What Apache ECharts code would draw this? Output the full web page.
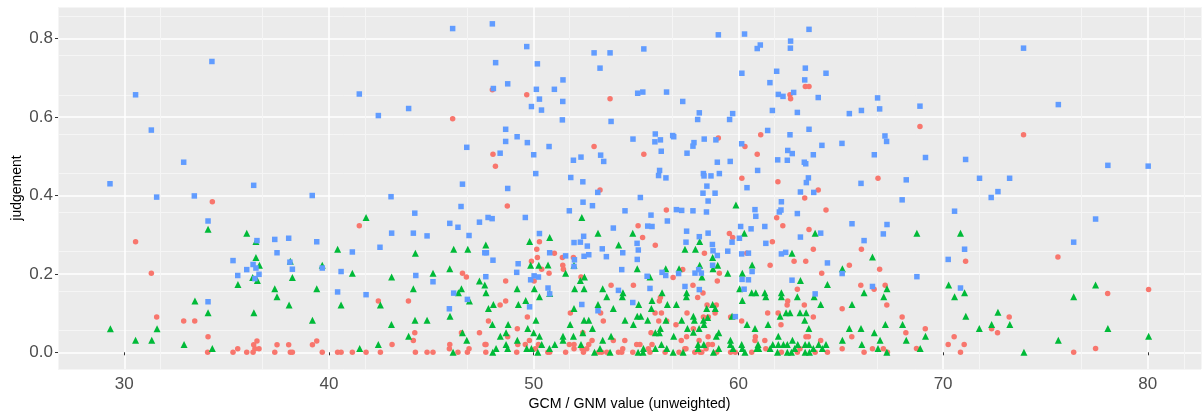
<!DOCTYPE html>
<html><head><meta charset="utf-8">
<style>html,body{margin:0;padding:0;background:#fff}#c{width:1202px;height:412px}</style>
<script src="https://cdn.jsdelivr.net/npm/echarts@6/dist/echarts.min.js"></script>
</head><body><div id="c"></div>
<script>
const xTicks=[30,40,50,60,70,80];
const yTicks=[0,0.2,0.4,0.6,0.8];
const xName='GCM / GNM value (unweighted)';
const yName='judgement';
const redPoints=[
[30.55,.282],[31.32,.202],[31.58,.09],[32.9,.08],[33.44,.08],[34.09,.04],[34.3,.384],[34.07,0],[35.31,0],[35.54,.009],[35.98,0],[36.29,0],[36.32,.019],[36.48,.029],[36.38,.009],[36.58,.009],[37.35,0],[37.46,.019],[38.03,.019],[38.11,0],[38.21,0],[39.19,.019],[39.4,.029],[39.67,0],[40.42,0],[40.59,0],[41.14,0],[41.48,.323],[41.81,0],[42.41,.131],[42.51,0],[43.08,.02],
[47.98,.67],[49.66,.657],[53.73,.647],[46.04,.596],[48.01,.505],[52.95,.525],[55.38,.505],[48.13,.475],[53.24,.414],
[63.27,.678],[63.45,.678],[62.52,.657],[62.55,.647],[59.02,.547],[61.09,.555],[60.32,.525],[60.92,.505],[60.17,.444],[61.93,.435],[66.82,.444],[63.9,.414],[63.24,.394],
[68.87,.576],[73.93,.555],[75.61,.243],[71.1,.232],[78.04,.15],[80.04,.16],[68,.09],[73.23,.09],[69.13,.06],[72.37,.06],[68.18,.05],[72.66,.05],[70.54,.04],[70.25,.02],[71.03,.02],[68.7,.01],[77.45,.01],[70.85,0],[76.38,0],
[48.71,.373],[50.28,.282],[50.15,.263],[50.18,.242],[51.01,.253],[51.4,.242],[51.94,.242],[49.89,.232],[51.42,.222],[51.45,.212],[50.39,.212],[50.75,.202],[46.52,.202],[46.71,.192],[48.63,.182],[50.02,.182],[52.31,.192],[43.88,.131],[48.36,.121],[48.63,.131],[51.79,.1],[49.69,.09],[47.79,.08],[49.2,.06],[44.19,.05],[46.47,.05],[47.35,.05],[52.4,.05],[44.12,.03],[48.73,.04],[49.79,.03],[52.85,.03],[45.9,.02],[45.88,.009],[46.84,.009],[47.62,.02],[47.67,.02],[49.22,.02],[49.59,.02],[51.74,.02],[51.97,.02],[52.69,.02],[50.23,.02],[50.08,.009],[51.97,.009],[52.36,.009],[52.59,.009],[44.22,0],[44.79,0],[45.08,0],[46.3,0],[46.76,0],[47.66,0],[49.17,0],[50.69,0],[50.78,0],[51.56,0],[52.43,0],[53.18,0],
[56.48,.363],[55.1,.323],[55.32,.293],[55.94,.273],[59.56,.303],[59.72,.293],[58.34,.253],[60.41,.253],[59.07,.202],[57.28,.211],[56.81,.191],[58.97,.182],[53.78,.171],[54.87,.171],[57.78,.171],[58.27,.151],[58.01,.14],[56.19,.14],[56.14,.131],[58.47,.121],[58.92,.121],[55.93,.1],[56.24,.1],[57.49,.1],[58.86,.1],[53.27,.1],[58.29,.09],[59.62,.09],[53.4,.08],[56.11,.08],[56.5,.08],[58.53,.09],[60.16,.08],[56.95,.07],[57.8,.06],[55.73,.05],[57.47,.04],[58.52,.04],[53.89,.03],[54.45,.03],[57.21,.03],[58.08,.03],[55.03,.02],[55.19,.02],[55.78,.02],[58.53,.02],[58.73,.02],[54.35,.009],[55.6,.009],[57.38,.009],[57.44,.009],[58.42,.009],[53.32,0],[53.57,0],[54.14,0],[54.3,0],[54.84,0],[55.68,0],[56.42,0],[57.1,0],[57.87,0],[58.13,0],[58.21,0],[58.94,0],[59.62,0],[59.85,0],
[64.28,.363],[61.87,.343],[62.17,.323],[63.45,.313],[61.66,.282],[63.66,.263],[66.01,.263],[62.72,.232],[63.29,.232],[61.55,.222],[65.42,.222],[66.9,.212],[64.07,.202],[65.98,.171],[67.17,.171],[66.63,.161],[62.88,.161],[62.41,.131],[62.38,.121],[63.22,.121],[67.25,.121],[65.07,.111],[61.43,.1],[61.94,.1],[63.66,.09],[62.08,.07],[60.83,.04],[63.3,.04],[63.42,.04],[65.54,.04],[60.81,.03],[61.29,.03],[64.02,.03],[63.01,.009],[61.34,.009],[65.07,.009],[66.55,.009],[67.08,.009],[60.65,0],[62.1,0],[62.88,0],[63.75,0],[64.35,0],[66.14,0],[67.28,0]
];
const greenPoints=[
[29.32,.06],[30.55,.031],[31.34,.031],[31.6,.06],[32.92,.02],[33.45,.131],[34.09,.101],[34.09,.314],[34.3,.01],[35.55,.173],[35.98,.304],[36.43,.283],[36.43,.242],[36.6,.222],[36.27,.191],[36.5,.183],[36.33,.101],[37.35,.162],[37.46,.142],[38.05,.121],[38.11,.232],[38.21,.191],[39.19,.082],[39.4,.162],[39.67,.222],[40.42,.263],[40.59,.121],[41.14,.202],[41.5,.01],[41.81,.344],[42.41,.02],[42.51,.121],[43.06,.192],[43.05,.071],
[68.72,.304],[70.85,.304],[70.27,.172],[71.05,.152],[70.56,.142],[76.38,.142],[77.45,.172],[71.11,.092],[72.68,.102],[68.02,.071],[72.37,.071],[73.26,.071],[71.77,.061],[78.05,.061],[69.14,.041],[80.04,.041],[68.2,.031],[75.63,.031],[68.88,.01],[73.95,0],
[52.35,.344],[53.14,.304],[50.78,.293],[49.8,.283],[47.66,.274],[44.22,.253],[46.09,.263],[46.78,.263],[49.85,.222],[50.25,.222],[50.7,.223],[51.97,.222],[45.9,.213],[45.08,.202],[51.56,.202],[47.35,.182],[47.61,.172],[52.48,.192],[52.28,.183],[44.12,.162],[46.47,.162],[46.32,.152],[47.67,.152],[49.19,.162],[50.03,.162],[52,.162],[52.46,.162],[50.78,.15],[50.28,.142],[46.86,.131],[49.61,.132],[48.03,.122],[49.25,.122],[47.79,.112],[51.97,.112],[53.14,.122],[44.2,.082],[44.79,.082],[45.91,.092],[50.11,.082],[51.78,.071],[52.46,.082],[52.69,.082],[47.98,.071],[48.75,.071],[49.71,.061],[52.87,.061],[46.52,.05],[48.65,.05],[50,.05],[52.4,.05],[43.89,.041],[48.37,.041],[50.28,.041],[51.43,.041],[51.94,.041],[46.73,.031],[49.2,.031],[51.43,.031],[48.65,.02],[50.39,.02],[51.03,.02],[52.31,.02],[48.16,.01],[48.73,.01],[49.66,.01],[49.89,.01],[50.77,.01],[53.24,.01],[46.06,0],[48,0],[50.2,0],[52.97,0],
[59.88,.376],[54.84,.304],[58.11,.283],[60.29,.304],[54.15,.274],[57.39,.263],[57.9,.263],[58.74,.242],[58.11,.222],[58.99,.222],[55.06,.213],[56.45,.213],[57.1,.213],[58.76,.213],[59.48,.202],[60.19,.202],[55.68,.192],[58.22,.192],[53.37,.162],[54.36,.152],[56.27,.152],[57.47,.152],[60.06,.162],[53.57,.142],[54.33,.142],[57.46,.142],[55.78,.132],[60.19,.132],[55.13,.122],[56.53,.122],[56.97,.122],[53.89,.112],[55.75,.112],[58.45,.112],[58.74,.122],[58.87,.112],[55.06,.092],[55.23,.092],[57.8,.092],[59.69,.092],[54.46,.082],[55.57,.082],[56.46,.082],[57.23,.082],[57.85,.082],[58.29,.082],[58.5,.089],[54.87,.071],[58.32,.071],[60.42,.071],[56.19,.061],[57.51,.061],[58.08,.061],[55.94,.05],[56.14,.05],[57.8,.051],[59.04,.05],[58.92,.041],[53.78,.041],[56.84,.041],[59.61,.031],[53.37,.031],[56.24,.02],[58.03,.02],[58.31,.02],[59.61,.02],[60.16,.02],[55.36,.01],[55.94,.01],[56.5,.01],[58.03,.01],[59.04,.01],[59.74,.01],[60.19,.01],[53.73,0],[55.1,0],[55.34,0],[56.81,0],[57.3,0],[58.78,0],[60.32,0],
[63.75,.304],[62.62,.253],[66.55,.243],[60.67,.223],[65.08,.213],[63.03,.183],[64.35,.173],[67.26,.162],[60.65,.152],[60.85,.152],[61.29,.152],[62.1,.152],[66.14,.152],[61.34,.142],[62.1,.142],[62.88,.142],[63.7,.142],[67.1,.142],[64.02,.122],[65.55,.122],[62.33,.101],[62.52,.101],[63.01,.101],[63.31,.101],[62.04,.092],[63.24,.082],[60.81,.061],[61.45,.071],[63.44,.061],[65.42,.061],[65.99,.061],[67.18,.071],[66.64,.05],[61.95,.041],[65.08,.031],[66.92,.031],[62.64,.031],[61.68,.02],[61.95,.02],[62.2,.02],[62.39,.02],[62.9,.02],[63.26,.02],[63.45,.02],[63.92,.02],[64.28,.02],[66.03,.02],[60.96,.02],[60.99,.01],[61.55,.01],[62.75,.01],[63.66,.01],[64.1,.01],[66.82,.01],[60.9,.01],[61.91,0],[62.39,0],[62.59,0],[63.26,0],[63.47,0],[67.25,0]
];
const bluePoints=[
[29.3,.43],[30.55,.657],[31.32,.567],[32.9,.485],[31.58,.396],[33.42,.399],[34.28,.742],[36.32,.426],[39.18,.4],[41.48,.659],[42.41,.604],[43.03,.397],
[34.09,.335],[34.09,.129],[35.31,.234],[35.54,.196],[35.98,.211],[36.29,.224],[36.43,.215],[36.58,.199],[36.38,.188],[36.48,.285],[37.35,.288],[37.46,.254],[38.03,.291],[38.09,.23],[38.21,.212],[39.4,.282],[39.67,.215],[40.59,.206],[40.42,.154],[41.14,.256],[41.81,.147],[42.49,.268],[43.06,.304],
[46.04,.826],[47.98,.838],[49.66,.78],[48.14,.739],[50.18,.736],[52.95,.764],[53.73,.764],[55.38,.774],[53.24,.725],[51.43,.695],[48.73,.685],[48.03,.673],[50.13,.671],[51.01,.671],[50.28,.646],[51.42,.64],[49.89,.627],[50.38,.618],[55.08,.661],[55.33,.664],[43.89,.622],[51.4,.593],[53.78,.589],[48.63,.569],[49.19,.55],[48.63,.538],[49.69,.535],[50.75,.525],[46.73,.523],[54.85,.544],[48.36,.508],[50,.504],[52.31,.498],[51.94,.49],[53.27,.503],[53.42,.487],[50.1,.456],[51.81,.446],[52.4,.435],[46.52,.429],[48.73,.418],[53.13,.408],[55.21,.395],
[59.02,.81],[60.3,.812],[63.45,.824],[62.55,.794],[61.07,.784],[60.92,.775],[62.54,.776],[60.17,.712],[61.87,.717],[63.27,.725],[64.28,.712],[63.24,.695],[61.54,.688],[62.7,.663],[61.95,.658],[62.18,.653],[63.9,.65],[66.8,.649],[56.49,.664],[57.28,.64],[58.09,.611],[59.72,.609],[58.01,.594],[59.57,.594],[61.66,.617],[62.88,.612],[65.42,.609],[66.01,.617],[66.9,.621],[61.43,.566],[63.45,.569],[62.52,.555],[67.16,.552],[67.24,.538],[55.94,.557],[56.19,.542],[55.92,.537],[56.79,.553],[56.84,.55],[58.33,.544],[58.9,.542],[57.83,.535],[57.78,.526],[60.16,.532],[64.08,.528],[65.06,.533],[56.23,.513],[57.49,.508],[62.41,.515],[62.63,.507],[63.66,.504],[66.64,.504],[61.92,.491],[62.39,.49],[63.22,.485],[63.29,.481],[58.97,.485],[59.6,.487],[56.15,.464],[56.1,.451],[56.46,.445],[58.29,.456],[58.32,.45],[58.66,.45],[59.07,.456],[60.94,.464],[63.42,.445],[63.32,.433],[65.99,.431],[60.42,.42],[58.46,.424],[58.27,.406],[58.86,.406],[63.03,.409],[63.68,.408],
[73.93,.776],[75.63,.632],[68.87,.628],[69.14,.497],[71.1,.492],[68.2,.44],[71.78,.444],[73.25,.444],[78.05,.477],[80.02,.475],[72.68,.41],[72.35,.395],[68,.389],[70.56,.36],[77.45,.34],[76.38,.281],[71.05,.263],[70.25,.237],[68.72,.193],[70.85,.164],
[46.45,.372],[44.19,.355],[52.41,.383],[52.87,.374],[51.74,.361],[49.59,.344],[47.77,.344],[47.97,.341],[47.35,.332],[45.9,.329],[46.3,.319],[44.12,.304],[44.79,.297],[46.84,.298],[50.28,.303],[52.44,.296],[51.97,.28],[52.28,.281],[52.62,.271],[47.61,.254],[47.69,.254],[48.01,.235],[50.78,.254],[51.56,.246],[52.69,.249],[52.46,.245],[51.99,.236],[51.97,.219],[49.24,.226],[49.17,.204],[50.02,.195],[50.23,.192],[49.85,.185],[44.24,.196],[47.66,.193],[45.08,.18],[50.7,.164],[50.78,.149],[46.09,.151],[46.76,.135],[45.88,.111],[49.8,.116],[52.35,.122],[53.14,.106],
[54.46,.361],[55.73,.35],[56.97,.364],[57.23,.362],[57.78,.361],[58.44,.358],[58.52,.386],[53.89,.317],[55.57,.322],[55.78,.321],[56.53,.335],[57.47,.309],[58.52,.304],[58.09,.295],[60.11,.321],[60.05,.291],[59.69,.281],[55.05,.278],[57.44,.281],[58.73,.275],[58.76,.259],[55.11,.261],[53.35,.264],[54.35,.254],[53.55,.244],[55.06,.237],[58.97,.247],[59.48,.258],[60.16,.251],[60.49,.253],[58.74,.222],[54.3,.211],[56.27,.204],[56.45,.196],[57.08,.201],[57.88,.202],[58.19,.202],[58.06,.211],[55.54,.194],[60.18,.186],[60.49,.185],[54.14,.158],[55.68,.163],[57.39,.168],[58.09,.16],[60.28,.161],[54.84,.127],[59.85,.091],
[62.1,.384],[60.81,.364],[62.08,.363],[62,.358],[60.85,.347],[62.88,.354],[65.55,.328],[67.26,.326],[61.29,.321],[60.62,.315],[63.03,.294],[64.02,.304],[67.08,.302],[66.14,.285],[61.34,.278],[62.1,.251],[62.31,.255],[64.35,.228],[60.67,.206],[65.07,.201],[62.62,.184],[66.55,.168],[63.75,.149]
];
const textColor='#4D4D4D';
const font='"Liberation Sans", Arial, sans-serif';
const chart=echarts.init(document.getElementById('c'),null,{renderer:'canvas'});
const xRange={min:26.76,max:82.6}, yRange={min:-0.0426,max:0.881};
const valueAxisBase=(range,interval)=>({type:'value',min:range.min,max:range.max,interval:interval,scale:true,
  axisLine:{show:false},axisTick:{show:false},axisLabel:{show:false},
  splitLine:{show:true,lineStyle:{color:'#F5F5F5',width:1}},minorSplitLine:{show:false}});
chart.setOption({
  animation:false,
  grid:{left:58,right:1,top:7,bottom:43,show:true,backgroundColor:'#EBEBEB',borderWidth:0,containLabel:false,outerBoundsMode:'none'},
  xAxis:[
    Object.assign(valueAxisBase(xRange,5),{position:'bottom'}),
    Object.assign(valueAxisBase(xRange,10),{position:'bottom',name:xName,nameLocation:'middle',nameGap:28,nameMoveOverlap:false,
      nameTextStyle:{color:'#000',fontSize:14.2,fontFamily:font},
      axisTick:{show:true,length:3,lineStyle:{color:'#333',width:1},customValues:xTicks},
      axisLabel:{show:true,color:textColor,fontSize:17,fontFamily:font,margin:7,customValues:xTicks,formatter:v=>String(v)},
      splitLine:{show:true,lineStyle:{color:'#fff',width:1.5}}})
  ],
  yAxis:[
    Object.assign(valueAxisBase(yRange,0.1),{position:'left'}),
    Object.assign(valueAxisBase(yRange,0.2),{position:'left',name:yName,nameLocation:'middle',nameGap:34,nameMoveOverlap:false,
      nameTextStyle:{color:'#000',fontSize:14,fontFamily:font},
      axisTick:{show:true,length:3,lineStyle:{color:'#333',width:1},customValues:yTicks},
      axisLabel:{show:true,color:textColor,fontSize:17,fontFamily:font,margin:5,padding:[3,0,0,0],customValues:yTicks,formatter:v=>v.toFixed(1)},
      splitLine:{show:true,lineStyle:{color:'#fff',width:1.5}}})
  ],
  series:[
    {type:'scatter',name:'red',xAxisIndex:1,yAxisIndex:1,data:redPoints,symbol:'circle',symbolSize:5.5,itemStyle:{color:'#F8766D',opacity:1},z:3},
    {type:'scatter',name:'green',xAxisIndex:1,yAxisIndex:1,data:greenPoints,symbol:'triangle',symbolSize:7,itemStyle:{color:'#00BA38',opacity:1},z:4},
    {type:'scatter',name:'blue',xAxisIndex:1,yAxisIndex:1,data:bluePoints,symbol:'rect',symbolSize:5.5,itemStyle:{color:'#619CFF',opacity:1},z:5}
  ]
});
</script></body></html>
